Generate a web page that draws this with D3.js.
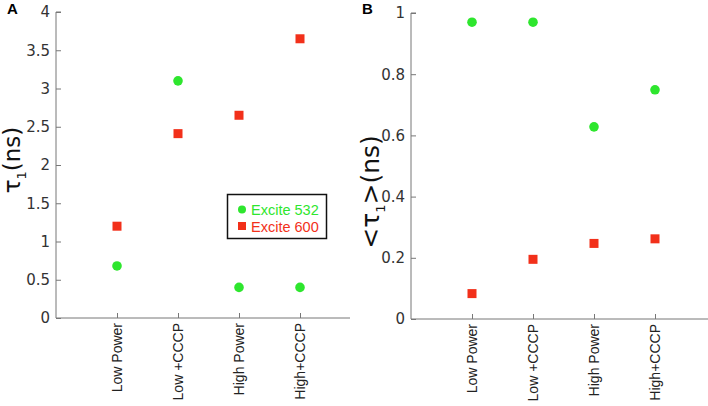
<!DOCTYPE html>
<html>
<head>
<meta charset="utf-8">
<script src="https://cdn.jsdelivr.net/npm/d3@7"></script>
<style>
  body { margin: 0; background: #fff; }
  svg { display: block; }
</style>
</head>
<body>
<div id="chart"></div>
<script>
// categories + values
var categories = ["Low Power", "Low +CCCP", "High Power", "High+CCCP"];
var tau1_532 = [0.68, 3.10, 0.40, 0.40];
var tau1_600 = [1.20, 2.41, 2.65, 3.65];
var meanTau_532 = [0.97, 0.97, 0.628, 0.749];
var meanTau_600 = [0.083, 0.195, 0.247, 0.262];
var ticksA = [0, 0.5, 1, 1.5, 2, 2.5, 3, 3.5, 4];
var ticksB = [0, 0.2, 0.4, 0.6, 0.8, 1];

var green = "#2ee62e", red = "#f2301a", axisCol = "#777";

var svg = d3.select("#chart").append("svg")
  .attr("width", 708).attr("height", 406);

function panel(opt) {
  var x = d3.scaleLinear().domain([0, opt.xmax]).range([opt.left, opt.right]);
  var y = d3.scaleLinear().domain([0, opt.ymax]).range([opt.bottom, opt.top]);
  var g = svg.append("g");

  // y axis, ticks pointing inward
  var ya = g.append("g").attr("transform", "translate(" + opt.left + ",0)")
    .call(d3.axisRight(y).tickValues(opt.ticks).tickSize(5).tickFormat(d3.format("")));
  ya.select(".domain").attr("stroke", axisCol).attr("d", "M5," + opt.top + "H0V" + opt.bottom);
  ya.selectAll(".tick line").attr("stroke", axisCol);
  ya.selectAll(".tick text").attr("x", -6).attr("text-anchor", "end")
    .attr("fill", "#333").style("font", "15px 'DejaVu Sans', sans-serif");

  // x axis
  var xa = g.append("g").attr("transform", "translate(0," + opt.bottom + ")")
    .call(d3.axisTop(x).tickValues([1, 2, 3, 4]).tickSize(5).tickFormat(function(d) { return categories[d - 1]; }));
  xa.select(".domain").attr("stroke", axisCol).attr("d", "M" + opt.left + ",0H" + opt.right);
  xa.selectAll(".tick line").attr("stroke", axisCol);
  xa.selectAll(".tick text")
    .attr("transform", "rotate(-90)")
    .attr("x", -5).attr("y", 0).attr("dy", "0.35em")
    .attr("text-anchor", "end")
    .attr("fill", "#222").style("font", "14px 'Liberation Sans', Arial, sans-serif");

  // markers
  g.selectAll(".sq").data(opt.red).enter().append("rect")
    .attr("x", function(d, i) { return x(i + 1) - 4.5; })
    .attr("y", function(d) { return y(d) - 4.5; })
    .attr("width", 9).attr("height", 9).attr("fill", red);
  g.selectAll(".ci").data(opt.green).enter().append("circle")
    .attr("cx", function(d, i) { return x(i + 1); })
    .attr("cy", function(d) { return y(d); })
    .attr("r", 4.8).attr("fill", green);

  // panel letter
  g.append("text").attr("x", opt.letterX).attr("y", 14)
    .style("font", "bold 15px 'Liberation Sans', Arial, sans-serif").text(opt.letter);

  // y label
  var lab = g.append("text")
    .attr("transform", "translate(" + opt.labX + "," + opt.labY + ") rotate(-90)")
    .attr("text-anchor", "middle")
    .attr("fill", "#111")
    .style("font", opt.labSize + "px 'DejaVu Sans', sans-serif");
  lab.append("tspan").text(opt.pre + "τ");
  lab.append("tspan").attr("dy", 6).style("font-size", "13px").text("1");
  lab.append("tspan").attr("dy", -6).text(opt.post + "(ns)");
  return { x: x, y: y, g: g };
}

var A = panel({ left: 56, right: 350, top: 12, bottom: 318, xmax: (350 - 56) / 61, ymax: 4,
  ticks: ticksA, red: tau1_600, green: tau1_532, letter: "A", letterX: 7,
  labX: 20, labY: 160, labSize: 23, pre: "", post: "" });

var B = panel({ left: 411, right: 708, top: 13, bottom: 319, xmax: (708 - 411) / 61, ymax: 1,
  ticks: ticksB, red: meanTau_600, green: meanTau_532, letter: "B", letterX: 362,
  labX: 379, labY: 192, labSize: 25, pre: "<", post: ">" });

// legend in panel A
var leg = A.g.append("g");
leg.append("rect").attr("x", 227.5).attr("y", 194.5).attr("width", 99).attr("height", 44)
  .attr("fill", "#fff").attr("stroke", "#111").attr("stroke-width", 1.5);
leg.append("circle").attr("cx", 242).attr("cy", 209.5).attr("r", 4).attr("fill", green);
leg.append("rect").attr("x", 238).attr("y", 222).attr("width", 8).attr("height", 8).attr("fill", red);
leg.append("text").attr("x", 251).attr("y", 214.5).attr("fill", green)
  .style("font", "14.5px 'Liberation Sans', Arial, sans-serif").text("Excite 532");
leg.append("text").attr("x", 251).attr("y", 231.5).attr("fill", red)
  .style("font", "14.5px 'Liberation Sans', Arial, sans-serif").text("Excite 600");
</script>
</body>
</html>
